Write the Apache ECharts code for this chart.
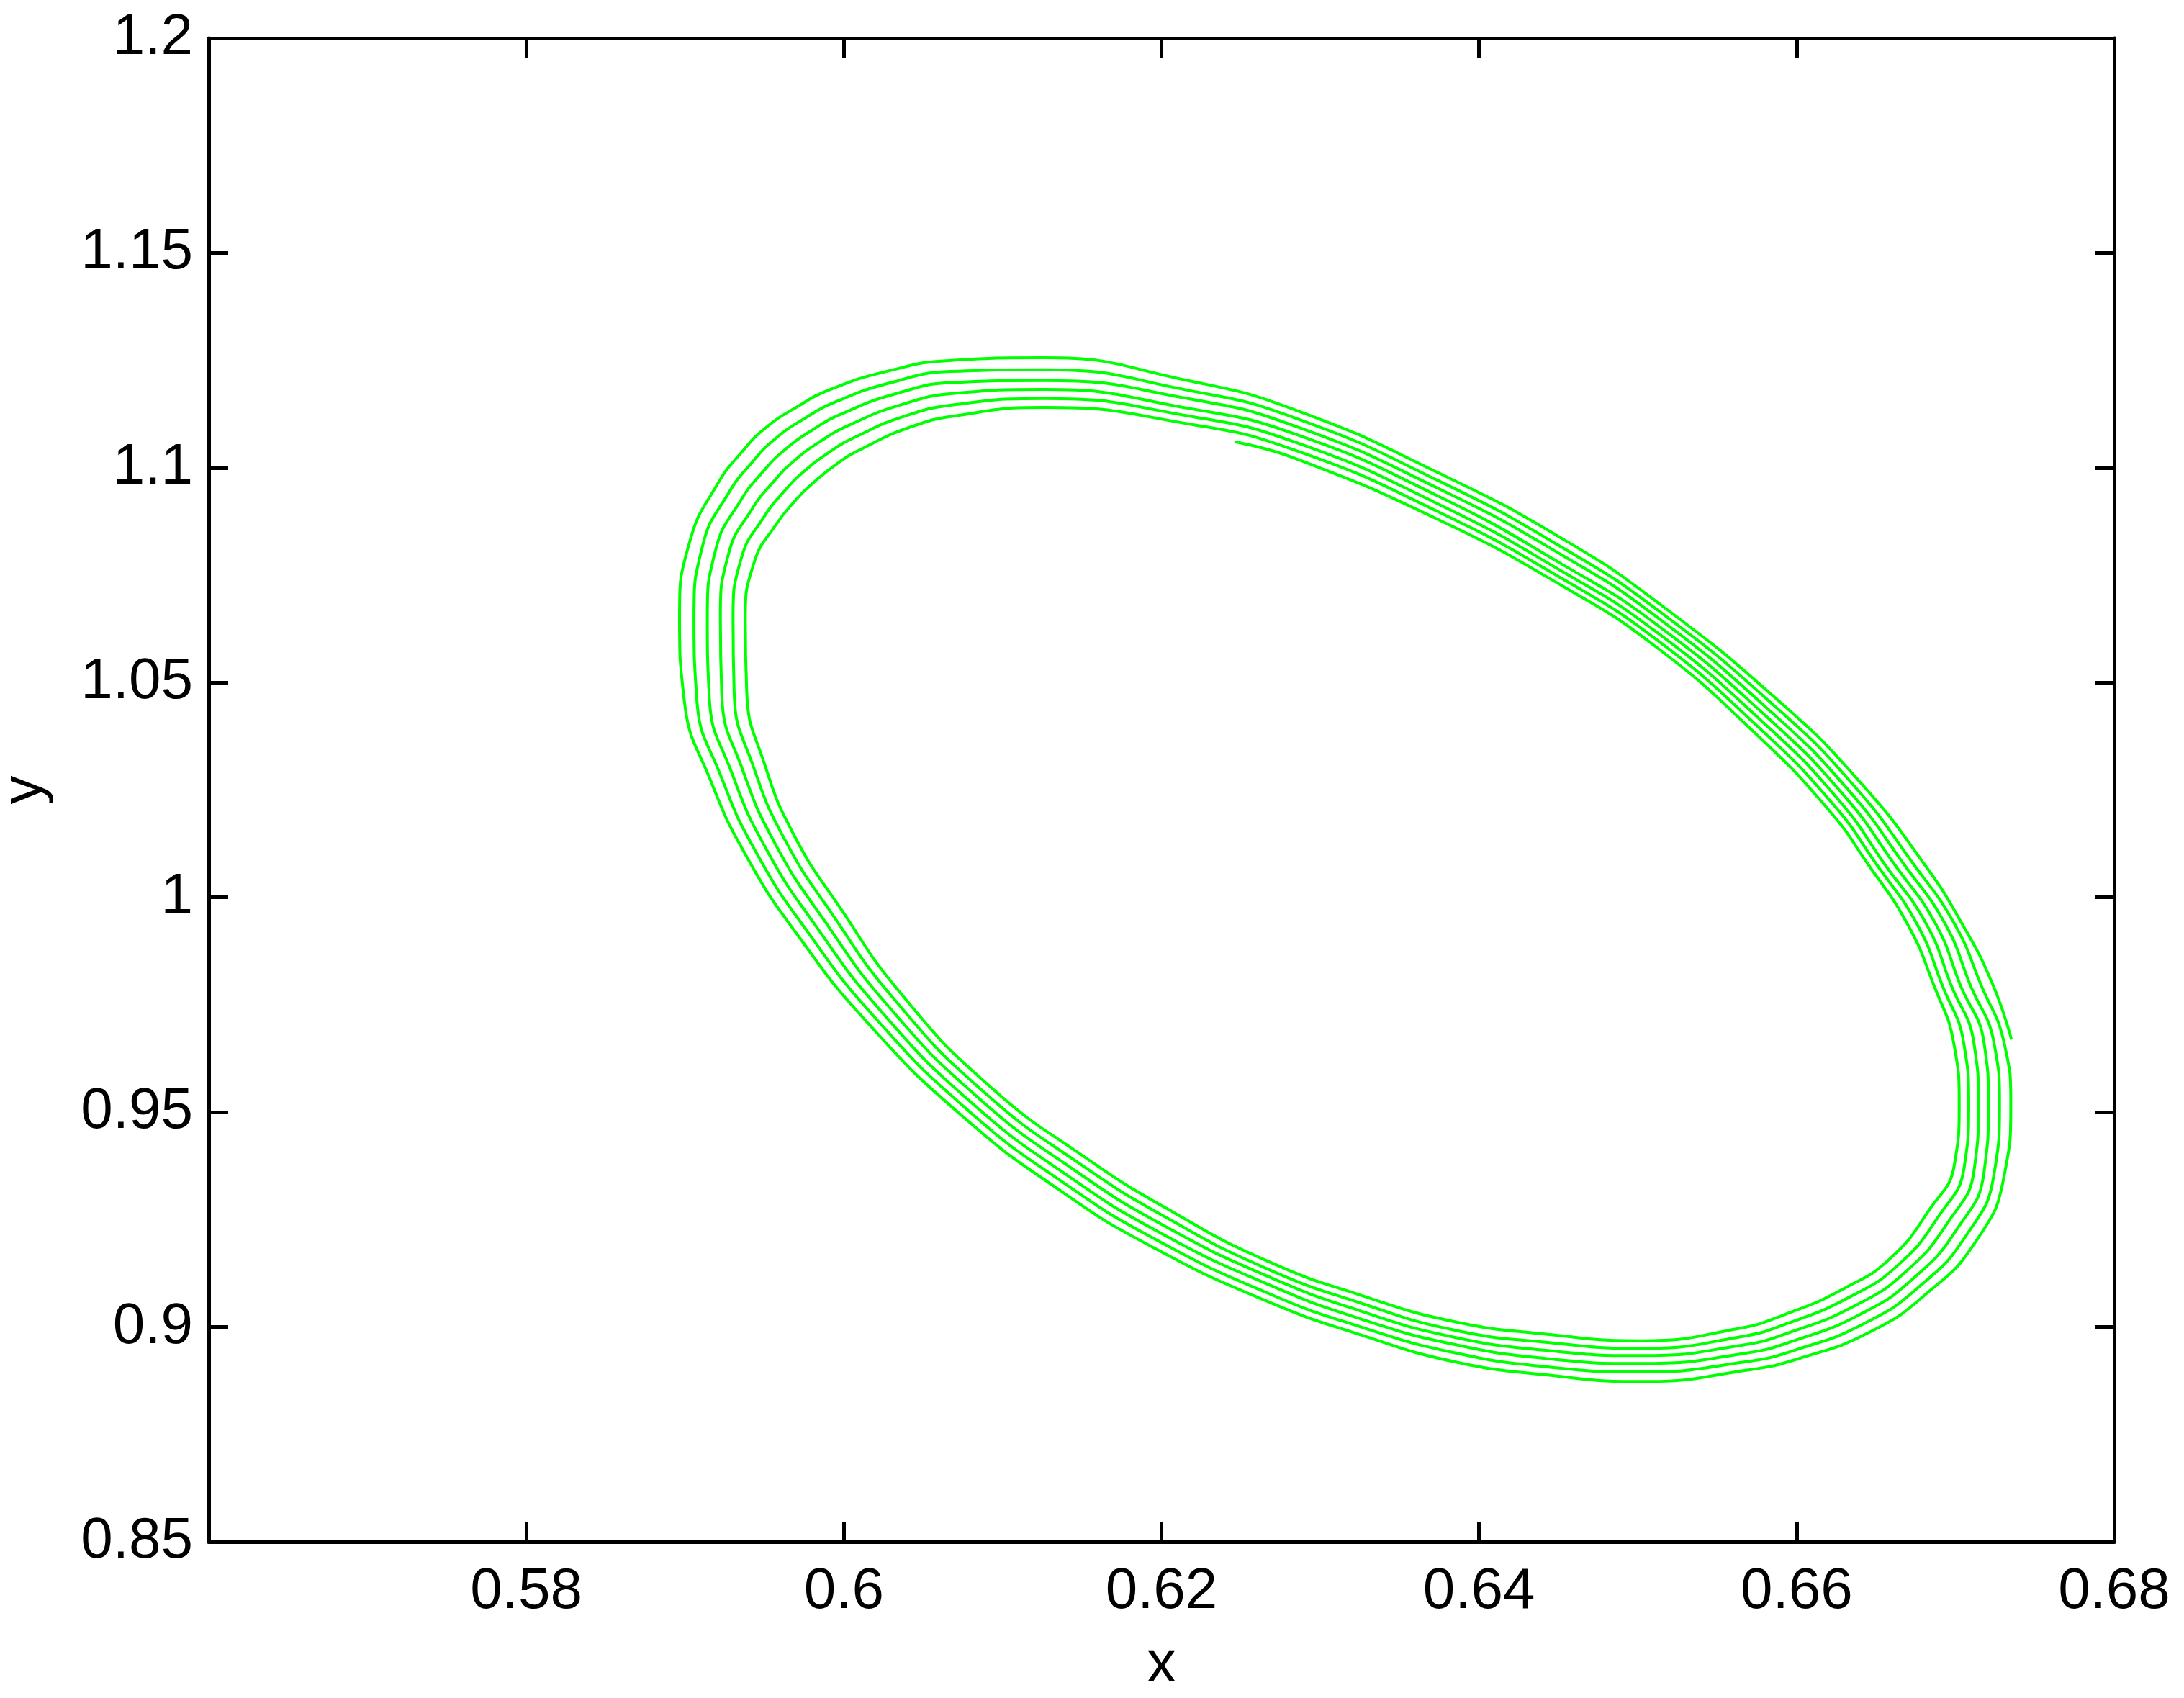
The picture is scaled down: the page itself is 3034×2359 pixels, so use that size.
<!DOCTYPE html>
<html>
<head>
<meta charset="utf-8">
<title>y against x</title>
<script src="https://cdn.jsdelivr.net/npm/echarts@6/dist/echarts.min.js"></script>
<style>
    html, body { margin: 0; padding: 0; background: #fff; }
    #chartSpiral { width: 3034px; height: 2359px; }
</style>
</head>
<body>
<div id="chartSpiral"></div>
<script>
    // tick values of both axes
    const xTicks = [0.56, 0.58, 0.6, 0.62, 0.64, 0.66, 0.68];
    const yTicks = [0.85, 0.9, 0.95, 1, 1.05, 1.1, 1.15, 1.2];

    // the trajectory, one lap at a time
    // (starts inside at the upper right, turns clockwise and spirals outwards)
    const startPoint = [0.62460, 1.10605];
    const lap0 = [
        [0.62846, 1.10213], [0.63752, 1.08778], [0.64523, 1.07253], [0.65112, 1.05838], [0.65733, 1.03843],
        [0.66200, 1.02044], [0.66450, 1.00770], [0.66698, 0.99379], [0.66862, 0.97976], [0.66991, 0.96580],
        [0.67024, 0.95189], [0.66994, 0.93786], [0.66835, 0.92725], [0.66593, 0.91607], [0.66306, 0.90910],
        [0.65928, 0.90294], [0.65626, 0.89959], [0.65022, 0.89679], [0.64432, 0.89830], [0.63843, 0.90127],
        [0.63254, 0.90742], [0.62664, 0.91540], [0.62075, 0.92670], [0.61517, 0.93954], [0.60910, 0.95630],
        [0.60361, 0.97753], [0.59975, 0.99765], [0.59687, 1.01441], [0.59499, 1.03117], [0.59388, 1.04793],
        [0.59379, 1.06470], [0.59436, 1.07811], [0.59567, 1.08649], [0.59687, 1.09207], [0.59808, 1.09654],
        [0.59959, 1.10102], [0.60111, 1.10437], [0.60413, 1.10940], [0.60715, 1.11218], [0.61259, 1.11403],
        [0.62166, 1.11024]
    ];
    const lap1 = [
        [0.62846, 1.10402], [0.63752, 1.08959], [0.64523, 1.07420], [0.65112, 1.06015], [0.65762, 1.03955],
        [0.66234, 1.02150], [0.66503, 1.00770], [0.66758, 0.99379], [0.66915, 0.97976], [0.67054, 0.96580],
        [0.67084, 0.95189], [0.67056, 0.93731], [0.66894, 0.92577], [0.66637, 0.91436], [0.66336, 0.90703],
        [0.65947, 0.90090], [0.65639, 0.89766], [0.65022, 0.89501], [0.64432, 0.89641], [0.63843, 0.89931],
        [0.63254, 0.90558], [0.62664, 0.91356], [0.62049, 0.92509], [0.61488, 0.93793], [0.60876, 0.95487],
        [0.60317, 0.97628], [0.59922, 0.99634], [0.59630, 1.01329], [0.59431, 1.03035], [0.59309, 1.04755],
        [0.59302, 1.06483], [0.59355, 1.07908], [0.59494, 1.08840], [0.59621, 1.09440], [0.59747, 1.09908],
        [0.59909, 1.10367], [0.60071, 1.10714], [0.60384, 1.11202], [0.60705, 1.11473], [0.61259, 1.11611],
        [0.62166, 1.11208]
    ];
    const lap2 = [
        [0.62846, 1.10590], [0.63752, 1.09140], [0.64523, 1.07588], [0.65112, 1.06191], [0.65791, 1.04068],
        [0.66267, 1.02257], [0.66555, 1.00770], [0.66817, 0.99379], [0.66971, 0.97976], [0.67118, 0.96580],
        [0.67145, 0.95189], [0.67119, 0.93677], [0.66952, 0.92430], [0.66681, 0.91267], [0.66367, 0.90497],
        [0.65965, 0.89885], [0.65652, 0.89574], [0.65022, 0.89334], [0.64432, 0.89451], [0.63843, 0.89763],
        [0.63254, 0.90373], [0.62664, 0.91188], [0.62022, 0.92346], [0.61459, 0.93633], [0.60843, 0.95346],
        [0.60272, 0.97502], [0.59869, 0.99503], [0.59572, 1.01216], [0.59364, 1.02953], [0.59231, 1.04716],
        [0.59222, 1.06497], [0.59274, 1.08003], [0.59420, 1.09031], [0.59556, 1.09673], [0.59686, 1.10161],
        [0.59858, 1.10630], [0.60031, 1.10989], [0.60356, 1.11461], [0.60695, 1.11730], [0.61259, 1.11822],
        [0.62166, 1.11386]
    ];
    const lap3 = [
        [0.62846, 1.10778], [0.63752, 1.09323], [0.64523, 1.07755], [0.65112, 1.06369], [0.65819, 1.04180],
        [0.66300, 1.02363], [0.66616, 1.00770], [0.66876, 0.99379], [0.67029, 0.97976], [0.67182, 0.96580],
        [0.67208, 0.95189], [0.67181, 0.93622], [0.67011, 0.92282], [0.66724, 0.91096], [0.66398, 0.90291],
        [0.65984, 0.89681], [0.65664, 0.89381], [0.65022, 0.89149], [0.64432, 0.89262], [0.63843, 0.89595],
        [0.63254, 0.90189], [0.62664, 0.91003], [0.61996, 0.92185], [0.61430, 0.93472], [0.60809, 0.95204],
        [0.60228, 0.97376], [0.59816, 0.99373], [0.59514, 1.01104], [0.59297, 1.02872], [0.59152, 1.04678],
        [0.59140, 1.06510], [0.59193, 1.08101], [0.59347, 1.09222], [0.59490, 1.09908], [0.59626, 1.10412],
        [0.59808, 1.10895], [0.59992, 1.11265], [0.60327, 1.11723], [0.60685, 1.11984], [0.61259, 1.12030],
        [0.62166, 1.11611]
    ];
    const lap4 = [
        [0.62846, 1.10965], [0.63752, 1.09504], [0.64523, 1.07967], [0.65112, 1.06547], [0.65847, 1.04292],
        [0.66333, 1.02469], [0.66676, 1.00770], [0.66936, 0.99379], [0.67092, 0.97976], [0.67245, 0.96580],
        [0.67278, 0.95189], [0.67244, 0.93568], [0.67069, 0.92135], [0.66768, 0.90926], [0.66428, 0.90085],
        [0.66002, 0.89476], [0.65676, 0.89188], [0.65022, 0.88953], [0.64432, 0.89071], [0.63843, 0.89401],
        [0.63254, 0.90004], [0.62664, 0.90797], [0.61970, 0.92023], [0.61401, 0.93313], [0.60776, 0.95063],
        [0.60184, 0.97251], [0.59763, 0.99242], [0.59456, 1.00992], [0.59229, 1.02790], [0.59073, 1.04639],
        [0.59056, 1.06523], [0.59111, 1.08196], [0.59274, 1.09413], [0.59425, 1.10141], [0.59564, 1.10665],
        [0.59757, 1.11158], [0.59952, 1.11540], [0.60299, 1.11983], [0.60674, 1.12241], [0.61259, 1.12281],
        [0.62166, 1.11805]
    ];
    const lap5 = [
        [0.62846, 1.11153], [0.63752, 1.09685], [0.64523, 1.08146], [0.65112, 1.06723], [0.65876, 1.04405],
        [0.66367, 1.02576], [0.66737, 1.00770], [0.66995, 0.99379], [0.67160, 0.97976], [0.67309, 0.96580],
        [0.67349, 0.95189], [0.67307, 0.93513], [0.67128, 0.91987], [0.66811, 0.90755], [0.66459, 0.89879],
        [0.66020, 0.89272], [0.65689, 0.88995], [0.65022, 0.88730], [0.64432, 0.88881], [0.63843, 0.89193],
        [0.63254, 0.89820], [0.62664, 0.90601], [0.61943, 0.91862], [0.61372, 0.93152], [0.60742, 0.94921],
        [0.60139, 0.97125], [0.59711, 0.99111], [0.59398, 1.00880], [0.59162, 1.02708], [0.58994, 1.04601],
        [0.58965, 1.06537], [0.59030, 1.08293], [0.59201, 1.09604], [0.59359, 1.10374], [0.59504, 1.10918],
        [0.59707, 1.11423], [0.59912, 1.11817], [0.60271, 1.12244], [0.60664, 1.12496], [0.61259, 1.12559],
        [0.62166, 1.12030]
    ];
    const lap6 = [
        [0.62846, 1.11342], [0.63752, 1.09867], [0.64523, 1.08352], [0.65112, 1.06900], [0.65904, 1.04517],
        [0.66400, 1.02681], [0.66805, 1.00770], [0.67043, 0.99379], [0.67235, 0.97976]
    ];
    const endPoint = [0.67353, 0.96692];

    const trajectory = [startPoint].concat(lap0, lap1, lap2, lap3, lap4, lap5, lap6, [endPoint]);

    const font = "'Liberation Sans', Arial, Helvetica, sans-serif";
    const black = { color: '#000', width: 5 };

    function step(ticks) {
        return +(ticks[1] - ticks[0]).toFixed(4);
    }

    // one side of the box; only the bottom and left ones carry labels
    function boxAxis(ticks, position, withLabels) {
        return {
            type: 'value',
            position: position,
            min: ticks[0],
            max: ticks[ticks.length - 1],
            interval: step(ticks),
            axisLine: { show: true, onZero: false, lineStyle: black },
            axisTick: { show: true, inside: true, length: 27, lineStyle: black },
            axisLabel: {
                show: withLabels,
                fontFamily: font,
                fontSize: 80,
                color: '#000',
                margin: position === 'bottom' ? 30 : 22,
                showMinLabel: position !== 'bottom'
            },
            splitLine: { show: false }
        };
    }

    const xBottom = boxAxis(xTicks, 'bottom', true);
    xBottom.name = 'x';
    xBottom.nameLocation = 'middle';
    xBottom.nameGap = 132;
    xBottom.nameTextStyle = { fontFamily: font, fontSize: 80, color: '#000' };

    const yLeft = boxAxis(yTicks, 'left', true);
    yLeft.name = 'y';
    yLeft.nameLocation = 'middle';
    yLeft.nameGap = 215;
    yLeft.nameTextStyle = { fontFamily: font, fontSize: 80, color: '#000' };

    const option = {
        animation: false,
        backgroundColor: '#fff',
        grid: {
            left: 290,
            right: 97,
            top: 53,
            bottom: 217,
            containLabel: false,
            outerBoundsMode: 'none'
        },
        xAxis: [xBottom, boxAxis(xTicks, 'top', false)],
        yAxis: [yLeft, boxAxis(yTicks, 'right', false)],
        series: [
            {
                name: 'trajectory',
                type: 'line',
                xAxisIndex: 0,
                yAxisIndex: 0,
                data: trajectory,
                smooth: true,
                symbol: 'none',
                showSymbol: false,
                clip: false,
                lineStyle: { color: '#00ff00', width: 4 }
            }
        ]
    };

    const myChart = echarts.init(document.getElementById('chartSpiral'));
    myChart.setOption(option);
</script>
</body>
</html>
